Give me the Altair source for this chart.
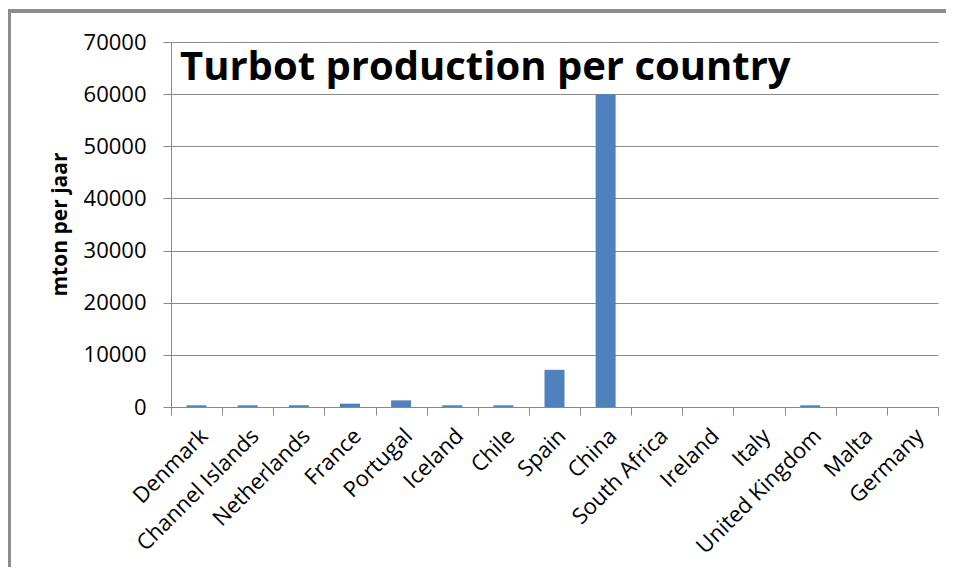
import altair as alt
import pandas as pd

countries = ["Denmark", "Channel Islands", "Netherlands", "France", "Portugal",
             "Iceland", "Chile", "Spain", "China", "South Africa", "Ireland",
             "Italy", "United Kingdom", "Malta", "Germany"]
production = [320, 320, 320, 640, 1270, 320, 320, 7130, 60000, 0, 0, 0, 320, 0, 0]
y_ticks = [0, 10000, 20000, 30000, 40000, 50000, 60000, 70000]
chart_title = "Turbot production per country"

df = pd.DataFrame({"country": countries, "mton": production})

FONT = "Open Sans"
GRID = "#888888"

bars = alt.Chart(df).mark_bar(size=20, color="#4F81BD").encode(
    x=alt.X("country:N", sort=countries, title=None,
            scale=alt.Scale(paddingInner=0, paddingOuter=0),
            axis=alt.Axis(labelAngle=-45, labelFontSize=22, labelFont=FONT,
                          labelColor="#000000", tickBand="extent", tickSize=8,
                          tickColor=GRID, domainColor=GRID, labelPadding=10,
                          labelAlign="right", labelBaseline="top")),
    y=alt.Y("mton:Q", title="mton per jaar",
            scale=alt.Scale(domain=[0, 70000], nice=False),
            axis=alt.Axis(values=y_ticks, format="d", labelFontSize=22,
                          labelFont=FONT, labelColor="#000000", tickSize=8,
                          tickColor=GRID, domainColor=GRID, gridColor=GRID,
                          labelPadding=17, titleFont=FONT, titleFontSize=21,
                          titleFontWeight="bold", titleColor="#000000",
                          titleX=-111, titleY=182, titleAngle=-90,
                          titleBaseline="middle", titleAlign="center")),
)

title_df = pd.DataFrame({"t": [chart_title]})
title_text = alt.Chart(title_df).mark_text(
    font=FONT, fontSize=40, fontWeight="bold", color="#000000",
    align="left", baseline="alphabetic"
).encode(text="t:N", x=alt.value(9), y=alt.value(38))

frame_top = alt.Chart(df).mark_rule(color="#8c8c8c", strokeWidth=3).encode(
    x=alt.value(-165), x2=alt.value(800), y=alt.value(-31))
frame_left = alt.Chart(df).mark_rule(color="#8c8c8c", strokeWidth=3).encode(
    x=alt.value(-162), y=alt.value(-31), y2=alt.value(560))

chart = alt.layer(frame_top, frame_left, bars, title_text).properties(
    width=767, height=365,
    autosize=alt.AutoSizeParams(type="none"),
    padding={"left": 163, "top": 34, "right": 8, "bottom": 160},
).configure_view(stroke=None).configure_axis(
    gridWidth=1, domainWidth=1, tickWidth=1
)

chart.save("out.html", embed_options={"renderer": "svg", "actions": False})
